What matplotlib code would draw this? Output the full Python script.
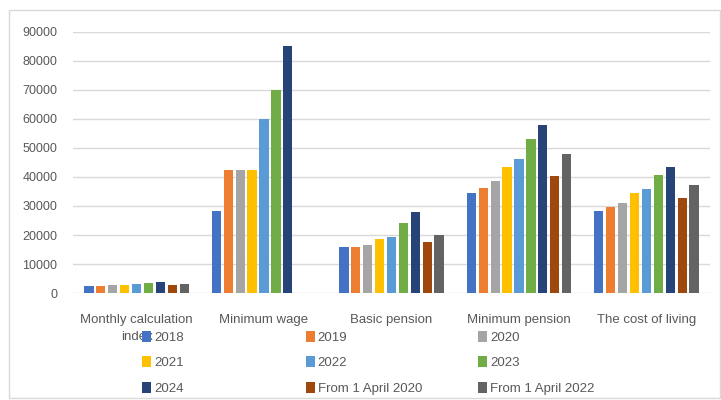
import numpy as np
import matplotlib.pyplot as plt
from matplotlib.patches import Rectangle

categories = ["Monthly calculation\nindex", "Minimum wage", "Basic pension",
              "Minimum pension", "The cost of living"]
series = ["2018", "2019", "2020", "2021", "2022", "2023", "2024",
          "From 1 April 2020", "From 1 April 2022"]
colors = ["#4472C4", "#ED7D31", "#A5A5A5", "#FFC000", "#5B9BD5",
          "#70AD47", "#264478", "#9E480E", "#636363"]

mci = [2405, 2525, 2651, 2917, 3063, 3450, 3692, 2778, 3180]
min_wage = [28284, 42500, 42500, 42500, 60000, 70000, 85000, np.nan, np.nan]
basic_pension = [16029, 16029, 16750, 18524, 19450, 24200, 27900, 17641, 20191]
min_pension = [34302, 36108, 38638, 43272, 46302, 53076, 57853, 40441, 48032]
cost_living = [28284, 29698, 31183, 34302, 36018, 40567, 43407, 32668, 37389]

values = np.array([mci, min_wage, basic_pension, min_pension, cost_living])

plt.rcParams['font.family'] = ['Liberation Sans', 'DejaVu Sans']

fig = plt.figure(figsize=(7.21, 4.0), dpi=100)
ax = fig.add_axes([0.101, 0.267, 0.884, 0.654])

x = np.arange(len(categories))
slot = 0.0934
bw = 0.073
handles = []
for i, name in enumerate(series):
    pos = x - 4.5 * slot + (i + 0.5) * slot
    h = ax.bar(pos, values[:, i], width=bw, color=colors[i], label=name)
    handles.append(h)

ax.set_xlim(-0.5, len(categories) - 0.5)
ax.set_ylim(0, 90000)
ax.set_yticks(np.arange(0, 90001, 10000))
ax.yaxis.grid(True, color="#D9D9D9", linewidth=1)
ax.set_axisbelow(True)
for s in ax.spines.values():
    s.set_visible(False)
ax.tick_params(length=0, colors="#595959", labelsize=9)
ax.tick_params(axis='y', pad=11)
ax.set_xticks(x)
ax.set_xticklabels(categories, fontsize=9.5, color="#595959", linespacing=1.6)
ax.tick_params(axis='x', pad=15)

# legend, three columns laid out row by row
col_x = [0.197, 0.424, 0.663]
for c in range(3):
    hs = [handles[c + 3 * r] for r in range(3)]
    fig.legend(hs, [series[c + 3 * r] for r in range(3)], loc='upper left',
               bbox_to_anchor=(col_x[c], 0.173), frameon=False, ncol=1,
               fontsize=9.5, handlelength=0.7, handleheight=0.9, handletextpad=0.2,
               labelspacing=0.95, labelcolor="#595959", borderpad=0, borderaxespad=0)

fig.patches.append(Rectangle((0.013, 0.004), 0.985, 0.97, transform=fig.transFigure,
                             fill=False, edgecolor="#D9D9D9", linewidth=1))

fig.savefig("out.png", dpi=100)
